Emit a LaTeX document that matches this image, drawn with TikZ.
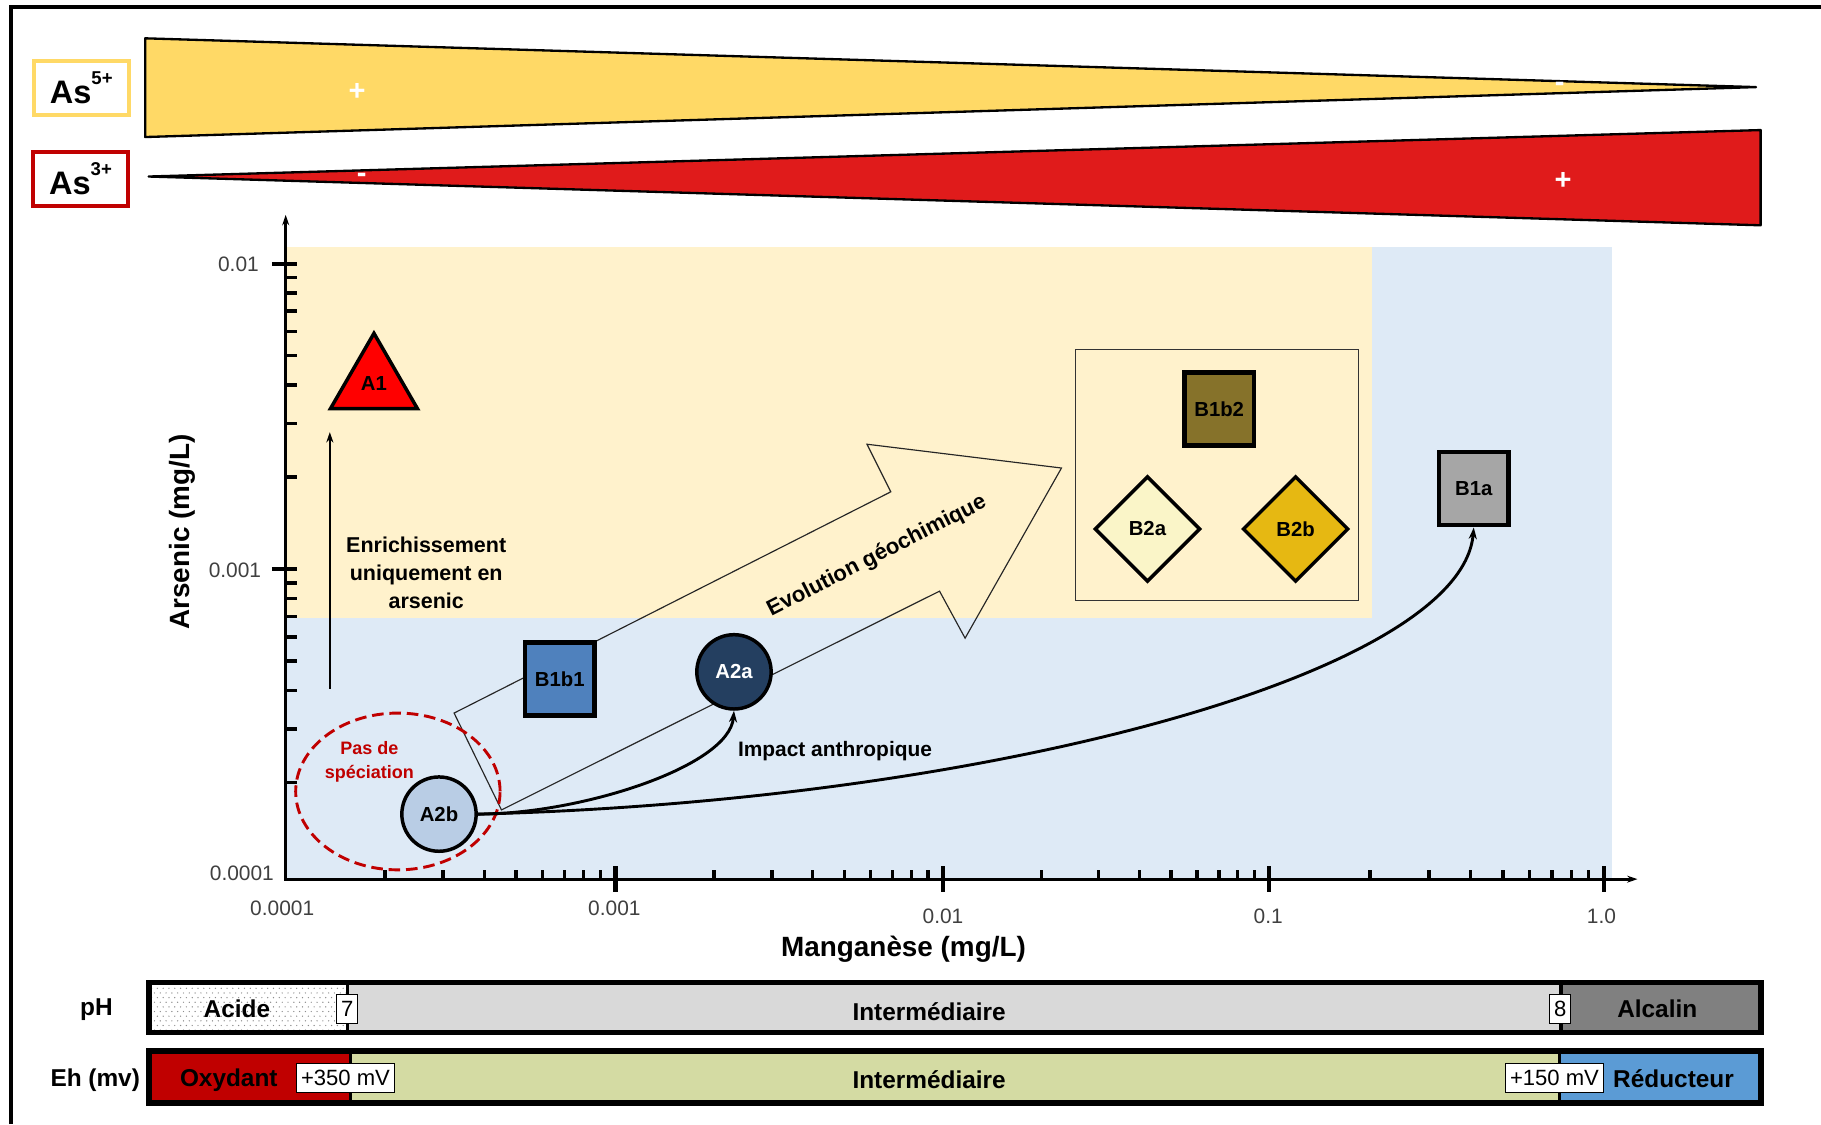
\documentclass[tikz,border=0pt]{standalone}
\usepackage{fontspec}
\setmainfont{Liberation Sans}
\usetikzlibrary{arrows.meta,shapes.geometric}

\definecolor{wedgeY}{HTML}{FFD966}
\definecolor{wedgeR}{HTML}{E01B1B}
\definecolor{asred}{HTML}{C00000}
\definecolor{zoneY}{HTML}{FFF2CC}
\definecolor{zoneB}{HTML}{DEEAF6}
\definecolor{tickgray}{HTML}{404040}
\definecolor{cA1}{HTML}{FF0000}
\definecolor{cB1b1}{HTML}{4F81BD}
\definecolor{cA2a}{HTML}{243F60}
\definecolor{cA2b}{HTML}{B9CDE5}
\definecolor{cB1b2}{HTML}{86722A}
\definecolor{cB2a}{HTML}{FAF5C8}
\definecolor{cB2b}{HTML}{E6B812}
\definecolor{cB1a}{HTML}{A6A6A6}
\definecolor{specred}{HTML}{C00000}
\definecolor{phmid}{HTML}{D9D9D9}
\definecolor{phalc}{HTML}{808080}
\definecolor{ehox}{HTML}{C00000}
\definecolor{ehmid}{HTML}{D4DBA3}
\definecolor{ehred}{HTML}{5B9BD5}

\newcommand\fsz[1]{\fontsize{#1}{#1}\selectfont}

\tikzset{
  ionbox/.style={rectangle, line width=3.5pt, fill=white, minimum width=82pt,
    minimum height=46pt, inner sep=0pt, font=\fsz{28}\bfseries},
  sign/.style={text=white, font=\fsz{25}\bfseries, inner sep=0pt},
  axisline/.style={line width=2.5pt,
    {Stealth[length=9pt,width=6pt]}-{Stealth[length=9pt,width=6pt]}},
  majortick/.style={line width=3.5pt},
  minortick/.style={line width=3pt},
  ticklbl/.style={text=tickgray, font=\fsz{18}, inner sep=0pt},
  axlbl/.style={font=\fsz{24}\bfseries, inner sep=0pt},
  sample/.style={draw=black, inner sep=0pt, font=\fsz{17.5}\bfseries},
  sqsample/.style={sample, rectangle, line width=4pt, minimum width=60pt, minimum height=63pt},
  circsample/.style={sample, circle, line width=3pt, minimum size=64pt},
  diasample/.style={sample, diamond, aspect=1, line width=3pt, minimum width=91pt, minimum height=91pt},
  conn/.style={line width=2.5pt, -{Stealth[length=10pt,width=7pt]}},
  plain/.style={font=\fsz{18}\bfseries, inner sep=0pt},
  bartxt/.style={font=\fsz{21}\bfseries, inner sep=0pt},
  valbox/.style={draw=black, line width=1pt, fill=white, inner sep=0pt,
    minimum height=25pt, font=\fsz{19}},
}

\begin{document}
\begin{tikzpicture}[x=1pt,y=-1pt]
\useasboundingbox (0,0) rectangle (1568,968);

% outer frame (top and left edges)
\draw[line width=4pt] (9.6,968) -- (9.6,6) -- (1568,6);

% arsenic species labels
\node[ionbox, draw=wedgeY] (as5) at (70,75.7) {As\raisebox{16pt}{\fsz{16}5+}};
\node[ionbox, draw=asred] (as3) at (69.3,154) {As\raisebox{16pt}{\fsz{16}3+}};

% proportion wedges
\filldraw[fill=wedgeY, draw=black, line width=2pt, line join=round]
  (125,33) -- (1512,75) -- (125,118) -- cycle;
\filldraw[fill=wedgeR, draw=black, line width=2pt, line join=round]
  (128,152) -- (1516,112) -- (1516,194) -- cycle;
\node[sign] (as5plus) at (307.5,79) {+};
\node[sign] (as5minus) at (1343,75) {-};
\node[sign] (as3minus) at (311.4,153) {-};
\node[sign] (as3plus) at (1346,156) {+};

% plot background zones
\fill[zoneB] (246,213) rectangle (1388,757);
\fill[zoneY] (246,213) rectangle (1181,532);

% axes
\draw[axisline] (246,185) |- (1410,757);

% y axis ticks (log scale, one decade = 263)
\foreach \a/\b in {753/490, 490/227} {
  \foreach \k in {2,...,9} {
    \draw[minortick] (246,{\a-(\a-\b)*ln(\k)/ln(10)}) -- ++(10,0);
  }
}
\draw[majortick] (234,227) -- (256,227);
\draw[majortick] (234,490) -- (256,490);

% x axis ticks (log scale)
\foreach \a/\b in {246/530, 530/812, 812/1093, 1093/1381} {
  \foreach \k in {2,...,9} {
    \draw[minortick] ({\a+(\b-\a)*ln(\k)/ln(10)},757) -- ++(0,-8);
  }
}
\foreach \x in {530,812,1093,1381} {
  \draw[majortick] (\x,746) -- (\x,768);
}

% tick labels
\node[ticklbl, anchor=east] (y1) at (223,228) {0.01};
\node[ticklbl, anchor=east] (y2) at (225,491) {0.001};
\node[ticklbl, anchor=east] (y3) at (236,752) {0.0001};
\node[ticklbl] (x1) at (243,782) {0.0001};
\node[ticklbl] (x2) at (529,782) {0.001};
\node[ticklbl] (x3) at (812,789) {0.01};
\node[ticklbl] (x4) at (1092,789) {0.1};
\node[ticklbl] (x5) at (1379,789) {1.0};

% axis titles
\node[axlbl, rotate=90] (ylab) at (157,458) {Arsenic (mg/L)};
\node[axlbl] (xlab) at (778,817) {Manganèse (mg/L)};

% group frame for B1b2, B2a, B2b
\node[draw=black!80, line width=1.2pt, minimum width=244pt, minimum height=216pt,
  inner sep=0pt] (grp) at (1048,409) {};

% geochemical evolution block arrow
\draw[line width=1pt, line join=miter, draw=black!85]
  (391,614) -- (767,423.5) -- (746.5,382.5) -- (914,403) -- (831,549.5)
  -- (809,509) -- (431.8,697.4) -- cycle;
\node[plain, font=\fsz{19}\bfseries, rotate=27] (evo) at (755,479) {Evolution géochimique};

% no-speciation zone
\node[ellipse, draw=specred, dashed, dash pattern=on 10pt off 5pt, line width=2.5pt,
  minimum width=176pt, minimum height=135pt, inner sep=0pt] (nospec) at (342.6,681.5) {};
\node[text=specred, align=center, font=\fontsize{15.5}{20}\selectfont\bfseries,
  inner sep=0pt] (nospectxt) at (318,656) {Pas de\\spéciation};

% arsenic-only enrichment
\coordinate (enrS) at (284,593);
\coordinate (enrE) at (284,372);
\draw[line width=2pt, -{Stealth[length=9pt,width=6pt]}] (enrS) -- (enrE);
\node[align=center, font=\fontsize{18.5}{24}\selectfont\bfseries, inner sep=0pt]
  (enrtxt) at (367,493) {Enrichissement\\uniquement en\\arsenic};

% samples
\node[regular polygon, regular polygon sides=3, minimum size=86.6pt, inner sep=0pt,
  fill=cA1, draw=black, line width=3pt, font=\fsz{17.5}\bfseries]
  (A1) at (322,330.3) {\raisebox{-3pt}{A1}};
\node[sqsample, fill=cB1b1] (B1b1) at (482,584.7) {B1b1};
\node[circsample, fill=cA2a, text=white] (A2a) at (632,578.5) {A2a};
\node[circsample, fill=cA2b] (A2b) at (378,701) {A2b};
\node[sqsample, fill=cB1b2] (B1b2) at (1049.8,352.3) {B1b2};
\node[diasample, fill=cB2a] (B2a) at (988,455.5) {B2a};
\node[diasample, fill=cB2b] (B2b) at (1115.6,455.5) {B2b};
\node[sqsample, fill=cB1a] (B1a) at (1269,420.7) {B1a};

% anthropogenic trajectories
\draw[conn] (A2b.east) .. controls (500,701) and (628,660) .. (A2a.south);
\draw[conn] (A2b.east) .. controls (850,690) and (1258,580) .. (B1a.south);
\node[plain] (impact) at (719,647) {Impact anthropique};

% pH scale
\fill[white] (128,846) rectangle (299,889);
\begin{scope}
  \clip (128,846) rectangle (299,889);
  \foreach \j in {0,...,10} {
    \foreach \i in {0,...,35} {
      \fill[black!45] ({128+\i*5+mod(\j,2)*2.5},{847+\j*4}) circle [radius=0.6];
    }
  }
\end{scope}
\fill[phmid] (299,846) rectangle (1344,889);
\fill[phalc] (1344,846) rectangle (1516,889);
\draw[line width=3pt] (299,846) -- (299,889);
\draw[line width=3pt] (1344,846) -- (1344,889);
\draw[line width=5pt] (128,846) rectangle (1516,889);
\node[bartxt] (phlbl) at (83,869) {pH};
\node[bartxt] (acid) at (204,869) {Acide};
\node[bartxt] (phmidtxt) at (800,871) {Intermédiaire};
\node[bartxt] (alc) at (1427,869) {Alcalin};
\node[valbox, minimum width=18pt] (ph7) at (299,868.5) {7};
\node[valbox, minimum width=18pt] (ph8) at (1343.5,868.5) {8};

% Eh scale
\fill[ehox] (128,905) rectangle (302,950);
\fill[ehmid] (302,905) rectangle (1343,950);
\fill[ehred] (1343,905) rectangle (1516,950);
\draw[line width=3pt] (302,905) -- (302,950);
\draw[line width=3pt] (1343,905) -- (1343,950);
\draw[line width=5pt] (128,905) rectangle (1516,950);
\node[bartxt] (ehlbl) at (82,930) {Eh (mv)};
\node[bartxt] (ox) at (197,930) {Oxydant};
\node[bartxt] (ehmidtxt) at (800,930) {Intermédiaire};
\node[bartxt] (red) at (1441,929) {Réducteur};
\node[valbox, minimum width=84pt] (eh350) at (297.5,928.5) {+350 mV};
\node[valbox, minimum width=84pt] (eh150) at (1338.5,928.5) {+150 mV};

\end{tikzpicture}
\end{document}
